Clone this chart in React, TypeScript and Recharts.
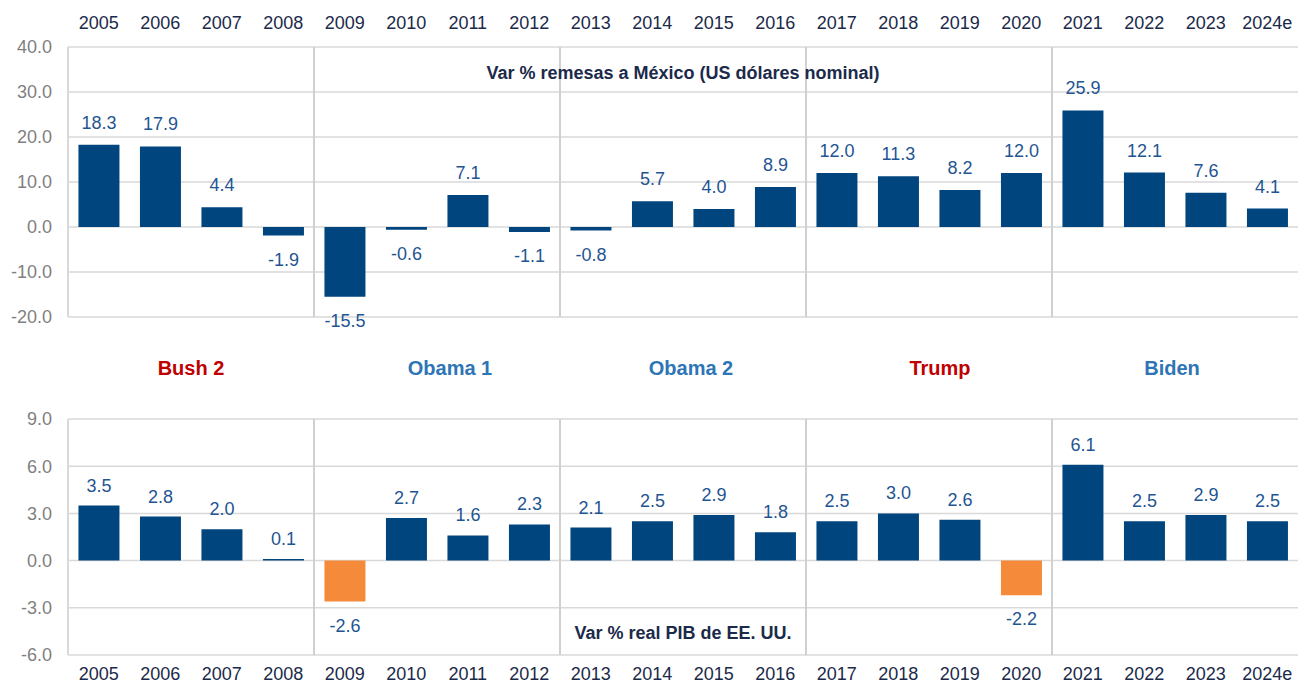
import { BarChart, Bar, XAxis, YAxis, CartesianGrid, Cell, LabelList, ReferenceLine } from "recharts";

const years = ["2005", "2006", "2007", "2008", "2009", "2010", "2011", "2012", "2013", "2014", "2015", "2016", "2017", "2018", "2019", "2020", "2021", "2022", "2023", "2024e"];
const remittances = [18.3, 17.9, 4.4, -1.9, -15.5, -0.6, 7.1, -1.1, -0.8, 5.7, 4.0, 8.9, 12.0, 11.3, 8.2, 12.0, 25.9, 12.1, 7.6, 4.1];
const usGdp = [3.5, 2.8, 2.0, 0.1, -2.6, 2.7, 1.6, 2.3, 2.1, 2.5, 2.9, 1.8, 2.5, 3.0, 2.6, -2.2, 6.1, 2.5, 2.9, 2.5];
const remittanceTicks = [-20, -10, 0, 10, 20, 30, 40];
const gdpTicks = [-6, -3, 0, 3, 6, 9];
const terms = ["Bush 2", "Obama 1", "Obama 2", "Trump", "Biden"];
const termParty = ["R", "D", "D", "R", "D"];
const termStarts = ["2009", "2013", "2017", "2021"];

const topData = years.map((year, i) => ({ year, value: remittances[i] }));
const bottomData = years.map((year, i) => ({ year, value: usGdp[i] }));

const FONT = '"Liberation Sans", Arial, sans-serif';
const BLUE = "#00457e";
const ORANGE = "#f58a3b";
const LABEL = "#1f5592";
const NAVY = "#1b2a4a";
const GRID = "#d9d9d9";
const partyColor: Record<string, string> = { R: "#c00000", D: "#2e75b6" };
// small horizontal nudges so the term names sit where the original has them
const termNudge = [0, 13, 8, 11, -3];

const makeLabel = (above: number) => (props: any) => {
  const vb = props.viewBox ?? props;
  const { x, y, width, height } = vb;
  const v = Number(props.value);
  const top = Math.min(y, y + height);
  const bottom = Math.max(y, y + height);
  const ty = v >= 0 ? top - above : bottom + 30;
  return (
    <text x={x + width / 2} y={ty} textAnchor="middle" fill={LABEL} fontSize={18} fontFamily={FONT}>
      {v.toFixed(1)}
    </text>
  );
};

export default function App() {
  return (
    <div style={{ position: "absolute", left: 0, top: 0, width: 1298, height: 684, fontFamily: FONT, background: "#fff" }}>
      <BarChart width={1298} height={340} data={topData} margin={{ top: 0, right: 0, left: 0, bottom: 23 }} barCategoryGap="17%">
        <CartesianGrid vertical={false} stroke={GRID} strokeWidth={1.5} />
        <XAxis dataKey="year" orientation="top" height={47} axisLine={false} tickLine={false} tickMargin={12} interval={0} tick={{ fill: NAVY, fontSize: 18, fontFamily: FONT }} />
        <YAxis width={68} domain={[-20, 40]} ticks={remittanceTicks} tickFormatter={(v) => Number(v).toFixed(1)} axisLine={{ stroke: GRID, strokeWidth: 2 }} tickLine={false} tickMargin={10} tick={{ fill: "#7f7f7f", fontSize: 18, fontFamily: FONT }} />
        {termStarts.map((s) => (
          <ReferenceLine key={s} x={s} position="start" stroke="#d0d0d0" strokeWidth={2} />
        ))}
        <Bar dataKey="value" fill={BLUE} isAnimationActive={false}>
          <LabelList dataKey="value" content={makeLabel(16)} />
        </Bar>
      </BarChart>

      <div style={{ position: "absolute", left: 68, top: 62, width: 1230, textAlign: "center", fontWeight: "bold", fontSize: 18, lineHeight: "22px", color: NAVY }}>
        Var % remesas a México (US dólares nominal)
      </div>

      <div style={{ position: "absolute", left: 68, top: 356, width: 1230, display: "flex", fontWeight: "bold", fontSize: 20, lineHeight: "24px" }}>
        {terms.map((t, i) => (
          <div key={t} style={{ flex: 1, textAlign: "center", color: partyColor[termParty[i]], position: "relative", left: termNudge[i] }}>
            {t}
          </div>
        ))}
      </div>

      <div style={{ position: "absolute", left: 0, top: 384 }}>
        <BarChart width={1298} height={300} data={bottomData} margin={{ top: 35, right: 0, left: 0, bottom: 0 }} barCategoryGap="17%">
          <CartesianGrid vertical={false} stroke={GRID} strokeWidth={1.5} />
          <XAxis dataKey="year" height={29} axisLine={false} tickLine={false} tickMargin={6} interval={0} tick={{ fill: NAVY, fontSize: 18, fontFamily: FONT }} />
          <YAxis width={68} domain={[-6, 9]} ticks={gdpTicks} tickFormatter={(v) => Number(v).toFixed(1)} axisLine={{ stroke: GRID, strokeWidth: 2 }} tickLine={false} tickMargin={10} tick={{ fill: "#7f7f7f", fontSize: 18, fontFamily: FONT }} />
          {termStarts.map((s) => (
            <ReferenceLine key={s} x={s} position="start" stroke="#d0d0d0" strokeWidth={2} />
          ))}
          <Bar dataKey="value" isAnimationActive={false}>
            {bottomData.map((d) => (
              <Cell key={d.year} fill={d.value < 0 ? ORANGE : BLUE} />
            ))}
            <LabelList dataKey="value" content={makeLabel(14)} />
          </Bar>
        </BarChart>
      </div>

      <div style={{ position: "absolute", left: 68, top: 622, width: 1230, textAlign: "center", fontWeight: "bold", fontSize: 18, lineHeight: "22px", color: NAVY }}>
        Var % real PIB de EE. UU.
      </div>
    </div>
  );
}
